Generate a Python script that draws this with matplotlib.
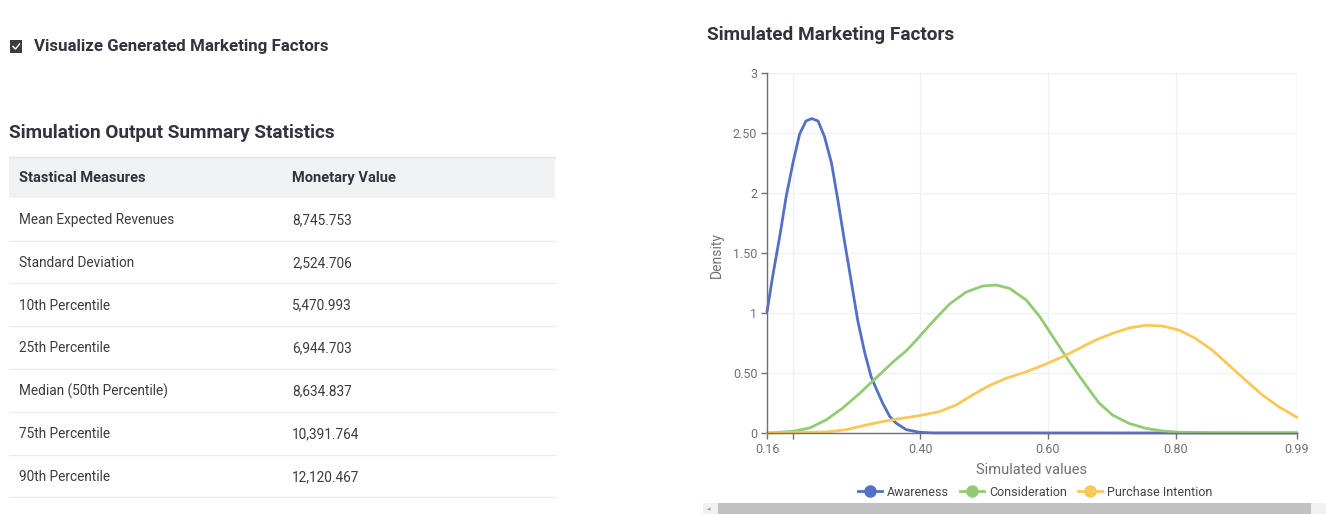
#!/usr/bin/env python3
"""
Marketing simulation dashboard: summary statistics table on the left,
density curves of the simulated marketing factors on the right.
"""

import matplotlib.pyplot as plt
from matplotlib.lines import Line2D
from matplotlib.patches import Rectangle

W, H = 1326, 514

plt.rcParams['font.family'] = ['Roboto', 'DejaVu Sans']

# ---- table data ----
TABLE_HEADER = ["Stastical Measures", "Monetary Value"]
MEASURES = [
    "Mean Expected Revenues",
    "Standard Deviation",
    "10th Percentile",
    "25th Percentile",
    "Median (50th Percentile)",
    "75th Percentile",
    "90th Percentile",
]
VALUES = ["8,745.753", "2,524.706", "5,470.993", "6,944.703",
          "8,634.837", "10,391.764", "12,120.467"]

# ---- density curves ----
AWARE_X = [0.160, 0.169, 0.180, 0.190, 0.201, 0.211, 0.221, 0.230, 0.240,
           0.250, 0.261, 0.271, 0.281, 0.292, 0.302, 0.313, 0.323, 0.331,
           0.341, 0.352, 0.362, 0.378, 0.399, 0.420, 0.99]
AWARE_Y = [1.01, 1.31, 1.64, 1.97, 2.26, 2.49, 2.60, 2.62, 2.60,
           2.47, 2.25, 1.94, 1.61, 1.26, 0.94, 0.67, 0.47, 0.37,
           0.25, 0.14, 0.083, 0.028, 0.006, 0.001, 0.0]

CONS_X = [0.160, 0.201, 0.227, 0.253, 0.279, 0.305, 0.331, 0.357, 0.379,
          0.394, 0.420, 0.446, 0.472, 0.498, 0.519, 0.540, 0.566, 0.587,
          0.608, 0.629, 0.649, 0.665, 0.680, 0.701, 0.727, 0.753, 0.779,
          0.805, 0.857, 0.99]
CONS_Y = [0.0, 0.014, 0.042, 0.11, 0.21, 0.33, 0.46, 0.59, 0.69,
          0.775, 0.93, 1.075, 1.175, 1.225, 1.233, 1.205, 1.108, 0.97,
          0.80, 0.63, 0.475, 0.358, 0.25, 0.15, 0.08, 0.039, 0.017,
          0.006, 0.0, 0.0]

PURCH_X = [0.160, 0.253, 0.284, 0.315, 0.346, 0.368, 0.399, 0.430, 0.456,
           0.482, 0.508, 0.534, 0.566, 0.597, 0.629, 0.660, 0.675, 0.701,
           0.727, 0.753, 0.779, 0.805, 0.831, 0.857, 0.883, 0.909, 0.935,
           0.961, 0.99]
PURCH_Y = [0.0, 0.008, 0.028, 0.066, 0.100, 0.12, 0.145, 0.178, 0.233,
           0.317, 0.395, 0.455, 0.51, 0.575, 0.65, 0.735, 0.775, 0.83,
           0.875, 0.898, 0.892, 0.858, 0.789, 0.692, 0.567, 0.442, 0.320,
           0.22, 0.13]

SERIES = [
    ("Awareness", AWARE_X, AWARE_Y, "#5470c6"),
    ("Consideration", CONS_X, CONS_Y, "#91cc75"),
    ("Purchase Intention", PURCH_X, PURCH_Y, "#fac858"),
]

X_TICKS = [0.16, 0.20, 0.40, 0.60, 0.80, 0.99]
X_TICK_LABELS = ["0.16", "", "0.40", "0.60", "0.80", "0.99"]
Y_TICKS = [0, 0.5, 1, 1.5, 2, 2.5, 3]
Y_TICK_LABELS = ["0", "0.50", "1", "1.50", "2", "2.50", "3"]

TEXT = "#31333f"
AXIS_GREY = "#6e7079"


def fx(x):
    return x / W


def fy(y):
    return 1 - y / H


def main():
    fig = plt.figure(figsize=(W / 100, H / 100), dpi=100)
    fig.patch.set_facecolor("white")

    # checkbox + label
    fig.patches.append(Rectangle((fx(10), fy(52.5)), 12 / W, 12 / H,
                                 transform=fig.transFigure, facecolor="#3d3d3d",
                                 edgecolor="none"))
    fig.lines.append(Line2D([fx(13), fx(15.5), fx(19.5)], [fy(46.5), fy(49), fy(44)],
                            transform=fig.transFigure, color="white", lw=1.0))
    fig.text(fx(34), fy(47), "Visualize Generated Marketing Factors",
             fontsize=12.2, fontweight="bold", color=TEXT, ha="left", va="center")

    fig.text(fx(9), fy(133), "Simulation Output Summary Statistics",
             fontsize=13.7, fontweight="bold", color=TEXT, ha="left", va="center")

    # table
    tbl_left, tbl_right = 9, 555
    fig.patches.append(Rectangle((fx(tbl_left), fy(198)), (tbl_right - tbl_left) / W, 41 / H,
                                 transform=fig.transFigure, facecolor="#f0f2f4",
                                 edgecolor="none"))
    fig.lines.append(Line2D([fx(tbl_left), fx(tbl_right)], [fy(157), fy(157)],
                            transform=fig.transFigure, color="#e2e4e8", lw=1))
    fig.text(fx(19), fy(178), TABLE_HEADER[0], fontsize=10.5, fontweight="bold",
             color=TEXT, ha="left", va="center")
    fig.text(fx(292), fy(178), TABLE_HEADER[1], fontsize=10.5, fontweight="bold",
             color=TEXT, ha="left", va="center")
    row_h = 42.83
    for i, (m, v) in enumerate(zip(MEASURES, VALUES)):
        yc = 220 + i * row_h
        fig.text(fx(19), fy(yc), m, fontsize=9.8, color="#3c3c3c",
                 ha="left", va="center")
        fig.text(fx(292), fy(yc), v, fontsize=9.8, color="#3c3c3c",
                 ha="left", va="center")
        yl = yc + 20.5
        fig.lines.append(Line2D([fx(tbl_left), fx(tbl_right)], [fy(yl), fy(yl)],
                                transform=fig.transFigure, color="#ececec", lw=1))

    # chart
    fig.text(fx(707), fy(35), "Simulated Marketing Factors",
             fontsize=13.7, fontweight="bold", color=TEXT, ha="left", va="center")

    ax = fig.add_axes([fx(767), fy(433), 530 / W, 360 / H])
    for name, xs, ys, col in SERIES:
        ax.plot(xs, ys, color=col, lw=2, label=name, solid_capstyle="round",
                solid_joinstyle="round", clip_on=False, zorder=3)

    ax.set_xlim(0.16, 0.99)
    ax.set_ylim(0, 3)
    ax.set_xticks(X_TICKS)
    ax.set_xticklabels(X_TICK_LABELS)
    ax.set_yticks(Y_TICKS)
    ax.set_yticklabels(Y_TICK_LABELS)
    ax.tick_params(axis="both", colors=AXIS_GREY, labelcolor=AXIS_GREY,
                   labelsize=9, length=4, width=1, pad=3)
    ax.grid(True, color="#eef0f3", lw=1, zorder=0)
    for side in ("top", "right"):
        ax.spines[side].set_visible(False)
    for side in ("left", "bottom"):
        ax.spines[side].set_color(AXIS_GREY)
        ax.spines[side].set_linewidth(1)
        ax.spines[side].set_zorder(4)
    # right edge gridline
    ax.axvline(0.99, color="#eef0f3", lw=1, zorder=0)
    ax.axhline(3, color="#eef0f3", lw=1, zorder=0)

    fig.text(fx(717), fy(255), "Density", rotation=90, fontsize=10,
             color=AXIS_GREY, ha="center", va="center")
    fig.text(fx(1032), fy(470), "Simulated values", fontsize=10.5,
             color=AXIS_GREY, ha="center", va="center")

    handles = [Line2D([0], [0], color=col, lw=2, marker="o", markersize=8,
                      markerfacecolor=col, markeredgecolor=col)
               for _, _, _, col in SERIES]
    labels = [s[0] for s in SERIES]
    leg = fig.legend(handles, labels, loc="center", bbox_to_anchor=(fx(1035), fy(492)),
                     ncol=3, frameon=False, fontsize=9, handlelength=1.9,
                     handletextpad=0.4, columnspacing=0.9, borderaxespad=0)
    for t in leg.get_texts():
        t.set_color("#444444")

    # scrollbar
    fig.patches.append(Rectangle((fx(703), fy(514)), (W - 703) / W, 11 / H,
                                 transform=fig.transFigure, facecolor="#f1f1f1",
                                 edgecolor="none"))
    fig.patches.append(Rectangle((fx(718), fy(514)), (1311 - 718) / W, 11 / H,
                                 transform=fig.transFigure, facecolor="#c1c1c1",
                                 edgecolor="none"))
    fig.text(fx(709), fy(509), "\u25c2", fontsize=5, color="#a0a0a0",
             ha="center", va="center", family=["DejaVu Sans"])

    fig.savefig("out.png", dpi=100)


if __name__ == "__main__":
    main()
